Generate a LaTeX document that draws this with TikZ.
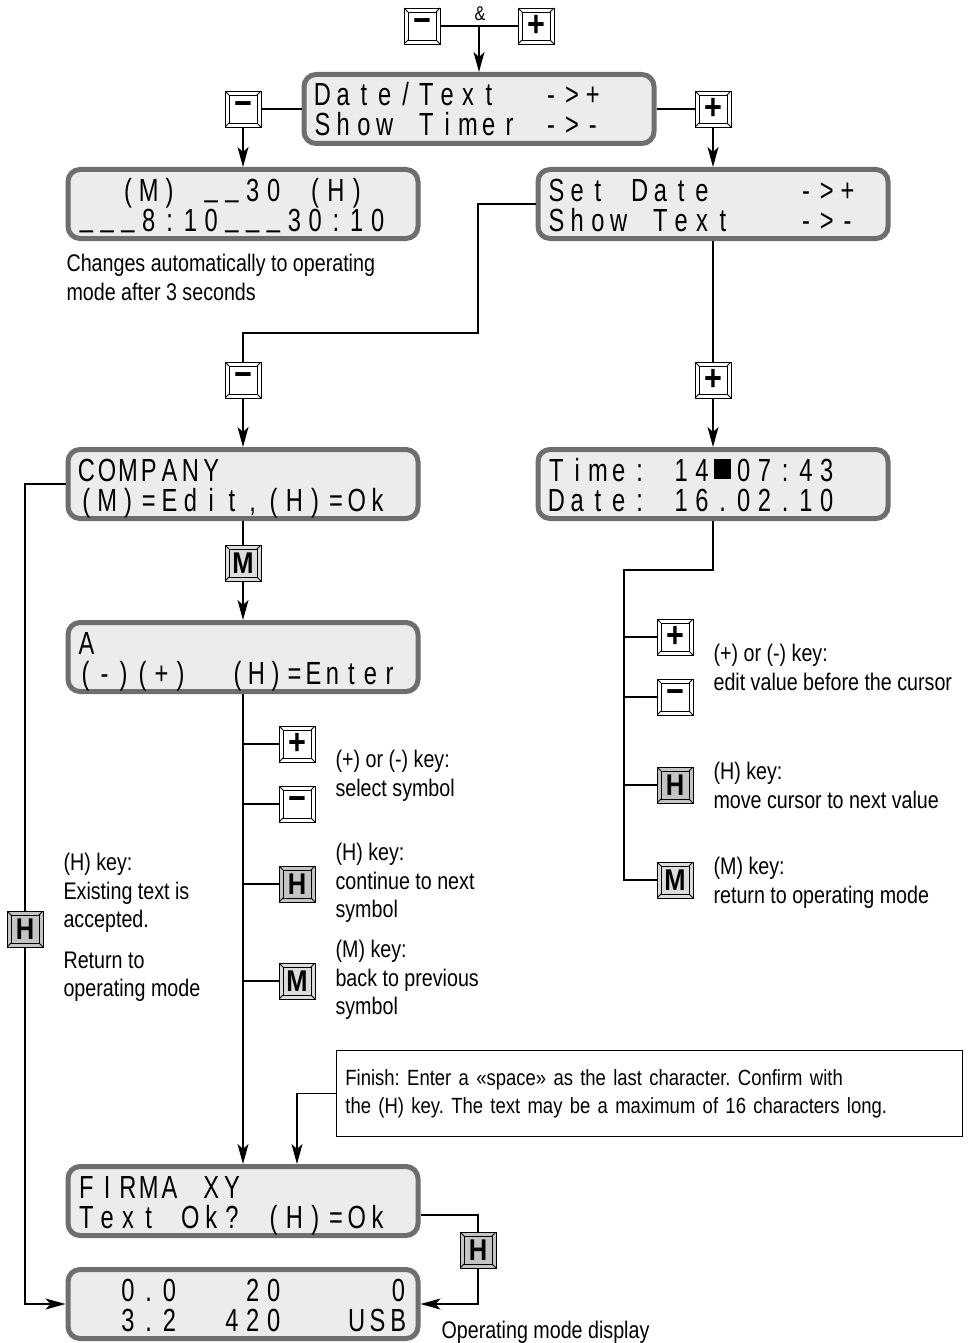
\documentclass[tikz,border=0pt]{standalone}
\usepackage{fontspec}
\setmainfont{Liberation Sans}
\newfontfamily\capfam{Liberation Sans}[FakeStretch=0.82]
\newfontfamily\notefam{Liberation Sans}[FakeStretch=0.84, WordSpace=0.7]
\newfontfamily\lcdfam{Liberation Sans}[FakeStretch=0.74]
\newfontfamily\keyfam{Liberation Sans}[FakeStretch=0.85]
\usetikzlibrary{arrows.meta, calc}

\definecolor{lcdfill}{HTML}{ECECEC}
\definecolor{lcdedge}{HTML}{6E6E6E}
\definecolor{keydark}{HTML}{C4C4C4}
\definecolor{keylight}{HTML}{DCDCDC}

% one LCD row: every character sits in a cell of fixed width
% (* = empty cell, ! = cursor block, _ sits on the baseline)
\ExplSyntaxOn
\NewDocumentCommand\lcdrow{O{20.8pt}m}{
  \mbox{\rule[-3pt]{0pt}{30pt}
  \str_map_inline:nn {#2}{
    \makebox[#1][c]{\smash{\str_case:nnF{##1}{
        {*}{}
        {!}{\rule[2pt]{17pt}{20pt}}
        {_}{\raisebox{5pt}{##1}}
      }{##1}}}
  }}
}
\ExplSyntaxOff

\begin{document}
\begin{tikzpicture}[
    x=1pt, y=-1pt,
    >={Stealth[length=20pt, width=11pt, inset=5pt]}, % arrow tips
    every path/.style={line width=1.1pt},
    lcd/.style={draw=lcdedge, line width=5pt, rounded corners=12pt, fill=lcdfill,
        text width=334pt, inner xsep=8pt, inner ysep=0pt, minimum height=69pt,
        align=left, font=\lcdfam\fontsize{32}{30}\selectfont},
    padkey/.style={draw, line width=0.9pt, fill=white, minimum size=36pt, inner sep=0pt,
        font=\keyfam\bfseries\fontsize{30}{30}\selectfont,
        path picture={
            \draw[line width=0.8pt] ([shift={(4,4)}]path picture bounding box.north west)
                rectangle ([shift={(-4,-4)}]path picture bounding box.south east);
            \draw[line width=0.8pt] (path picture bounding box.north west) -- ++(4,4)
                (path picture bounding box.north east) -- ++(-4,4)
                (path picture bounding box.south west) -- ++(4,-4)
                (path picture bounding box.south east) -- ++(-4,-4);
        }},
    signkey/.style={padkey, font=\keyfam\bfseries\fontsize{36}{36}\selectfont},
    hkey/.style={padkey, fill=keydark},
    mkey/.style={padkey, fill=keylight},
    hint/.style={anchor=north west, inner sep=0pt, align=left,
        font=\capfam\fontsize{24}{28.5}\selectfont},
    finishbox/.style={draw, line width=0.9pt, anchor=north west, inner xsep=9pt,
        text width=608pt, minimum height=86pt, align=left,
        font=\notefam\fontsize{22}{28}\selectfont\frenchspacing}
]
\useasboundingbox (0,0) rectangle (968,1343);

% displays
\node[lcd] (lcdStart)   at (479,109)  {\lcdrow{Date/Text**->+}\\\lcdrow{Show*Timer*->-}};
\node[lcd] (lcdTimer)   at (243,204)  {\lcdrow{**(M)*__30*(H)}\\\lcdrow{___8:10___30:10}};
\node[lcd] (lcdSelect)  at (713,204)  {\lcdrow{Set*Date****->+}\\\lcdrow{Show*Text***->-}};
\node[lcd] (lcdText)    at (243,484)  {\lcdrow{COMPANY}\\\lcdrow{(M)=Edit,(H)=Ok}};
\node[lcd] (lcdClock)   at (713,484)  {\lcdrow{Time:*14!07:43}\\\lcdrow{Date:*16.02.10}};
\node[lcd] (lcdAChar)   at (243,657)  {\lcdrow{A}\\\lcdrow[19pt]{(-)(+)**(H)=Enter}};
\node[lcd] (lcdConfirm) at (243,1201) {\lcdrow{FIRMA*XY}\\\lcdrow{Text*Ok?*(H)=Ok}};
\node[lcd] (lcdRun)     at (243,1304) {\lcdrow{**0.0***20*****0}\\\lcdrow{**3.2**420***USB}};

% keys
\node[signkey] (kBothMinus)  at (422,26)   {\raisebox{-2pt}{−}};
\node[signkey] (kBothPlus)   at (536,26)   {+};
\node at (480,14) {\capfam\fontsize{20}{20}\selectfont\&};
\node[signkey] (kTimerMinus) at (243,109)  {\raisebox{-2pt}{−}};
\node[signkey] (kSelectPlus) at (713,109)  {+};
\node[signkey] (kTextMinus)  at (243,380)  {\raisebox{-2pt}{−}};
\node[signkey] (kClockPlus)  at (713,380)  {+};
\node[mkey]    (kEditM)      at (243,563)  {M};
\node[signkey] (kSelPlus)    at (297,744)  {+};
\node[signkey] (kSelMinus)   at (297,804)  {\raisebox{-2pt}{−}};
\node[hkey]    (kNextH)      at (297,884)  {H};
\node[mkey]    (kBackM)      at (297,981)  {M};
\node[signkey] (kValPlus)    at (675,637)  {+};
\node[signkey] (kValMinus)   at (675,697)  {\raisebox{-2pt}{−}};
\node[hkey]    (kCurH)       at (675,785)  {H};
\node[mkey]    (kRetM)       at (675,880)  {M};
\node[hkey]    (kAccH)       at (25,929)   {H};
\node[hkey]    (kOkH)        at (478,1250) {H};

% texts
\node[hint] (tAuto) at (66,254) {Changes automatically to operating\\mode after 3 seconds};
\node[hint] (tSel)  at (335,750) {(+) or (-) key:\\select symbol};
\node[hint] (tNext) at (335,843) {(H) key:\\continue to next\\symbol};
\node[hint] (tBack) at (335,940) {(M) key:\\back to previous\\symbol};
\node[hint] (tVal)  at (713,644) {(+) or (-) key:\\edit value before the cursor};
\node[hint] (tCur)  at (713,762) {(H) key:\\move cursor to next value};
\node[hint] (tRet)  at (713,857) {(M) key:\\return to operating mode};
\node[hint] (tAcc)  at (63,853)  {(H) key:\\Existing text is\\accepted.};
\node[hint] (tBackRun) at (63,951) {Return to\\operating mode};
\node[hint] (tRun)  at (441,1321) {Operating mode display};
\node[finishbox] (noteBox) at (336,1050) {Finish: Enter a «space» as the last character. Confirm with\\the (H) key. The text may be a maximum of 16 characters long.};

\coordinate (selBend) at (478,333);
\coordinate (clkBend) at (624,570);

% connectors
\draw (kBothMinus.east) -- (kBothPlus.west);
\draw[->] (kBothMinus.east -| lcdStart.north) -- (lcdStart.north);
\draw (lcdStart.west) -- (kTimerMinus.east);
\draw[->] (kTimerMinus.south) -- (lcdTimer.north);
\draw (lcdStart.east) -- (kSelectPlus.west);
\draw[->] (kSelectPlus.south) -- (lcdSelect.north);

\draw (lcdSelect.west) -| (selBend) -| (kTextMinus.north);
\draw[->] (kTextMinus.south) -- (lcdText.north);
\draw (lcdSelect.south) -- (kClockPlus.north);
\draw[->] (kClockPlus.south) -- (lcdClock.north);

\draw (lcdText.south) -- (kEditM.north);
\draw[->] (kEditM.south) -- (lcdAChar.north);
\draw[->] (lcdAChar.south) -- (lcdConfirm.north);
\foreach \k in {kSelPlus, kSelMinus, kNextH, kBackM}
    \draw (\k.west) -- (\k.west -| lcdAChar.south);

\draw (lcdClock.south) |- (clkBend) |- (kRetM.west);
\foreach \k in {kValPlus, kValMinus, kCurH}
    \draw (\k.west) -- (\k.west -| clkBend);

\draw (lcdText.west) -| (kAccH.north);
\draw[->] (kAccH.south) |- (lcdRun.west);

\draw[->] (noteBox.west) -| (lcdConfirm.north -| kSelPlus);
\draw ($(lcdConfirm.east)+(0,14)$) -| (kOkH.north);
\draw[->] (kOkH.south) |- (lcdRun.east);

\end{tikzpicture}
\end{document}
